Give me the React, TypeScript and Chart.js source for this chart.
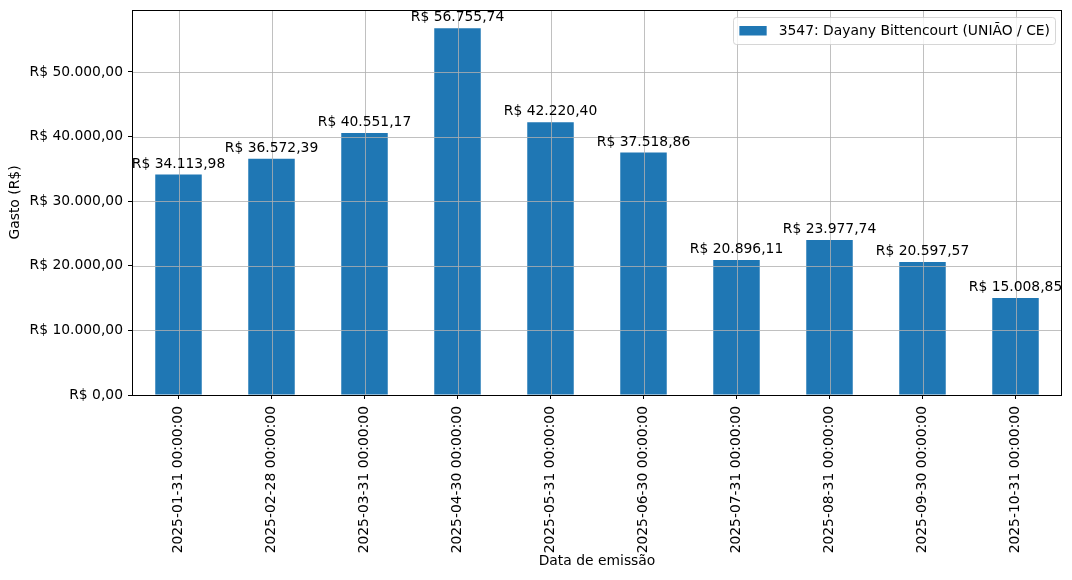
import React, { useEffect, useRef } from "react";
import { Chart, registerables } from "chart.js";

Chart.register(...registerables);

const categories = [
  "2025-01-31 00:00:00",
  "2025-02-28 00:00:00",
  "2025-03-31 00:00:00",
  "2025-04-30 00:00:00",
  "2025-05-31 00:00:00",
  "2025-06-30 00:00:00",
  "2025-07-31 00:00:00",
  "2025-08-31 00:00:00",
  "2025-09-30 00:00:00",
  "2025-10-31 00:00:00",
];
const seriesLabel = "3547: Dayany Bittencourt (UNIÃO / CE)";
const values = [
  34113.98, 36572.39, 40551.17, 56755.74, 42220.4, 37518.86, 20896.11, 23977.74,
  20597.57, 15008.85,
];
const yTickValues = [0, 10000, 20000, 30000, 40000, 50000];
const yMax = 59593.5;
const xTitle = "Data de emissão";
const yTitle = "Gasto (R$)";

const FONT_FAMILY = "'DejaVu Sans', sans-serif";
const FONT_SIZE = 13.89;
const BAR_COLOR = "#1f77b4";
const GRID_COLOR = "#b0b0b0";

function brl(v: number): string {
  const [i, d] = v.toFixed(2).split(".");
  return "R$ " + i.replace(/\B(?=(\d{3})+(?!\d))/g, ".") + "," + d;
}

const overlayPlugin = {
  id: "overlay",
  afterDatasetsDraw(chart: any) {
    const { ctx, chartArea } = chart;
    const xs = chart.scales.x;
    const ys = chart.scales.y;
    ctx.save();
    // grid on top of bars
    ctx.strokeStyle = GRID_COLOR;
    ctx.lineWidth = 0.8;
    for (let i = 0; i < xs.ticks.length; i++) {
      const px = Math.round(xs.getPixelForTick(i)) + 0.5;
      ctx.beginPath();
      ctx.moveTo(px, chartArea.top);
      ctx.lineTo(px, chartArea.bottom);
      ctx.stroke();
    }
    for (let i = 0; i < ys.ticks.length; i++) {
      const py = Math.round(ys.getPixelForTick(i)) + 0.5;
      ctx.beginPath();
      ctx.moveTo(chartArea.left, py);
      ctx.lineTo(chartArea.right, py);
      ctx.stroke();
    }
    // frame
    ctx.strokeStyle = "#000";
    ctx.lineWidth = 1;
    ctx.strokeRect(
      Math.round(chartArea.left) + 0.5,
      Math.round(chartArea.top) + 0.5,
      Math.round(chartArea.right - chartArea.left) - 1,
      Math.round(chartArea.bottom - chartArea.top)
    );
    // value labels
    ctx.fillStyle = "#000";
    ctx.font = `${FONT_SIZE}px ${FONT_FAMILY}`;
    ctx.textAlign = "center";
    ctx.textBaseline = "alphabetic";
    const meta = chart.getDatasetMeta(0);
    meta.data.forEach((bar: any, i: number) => {
      ctx.fillText(brl(values[i]), bar.x, bar.y - 7);
    });
    // legend
    const tw = ctx.measureText(seriesLabel).width;
    const boxRight = chartArea.right - 7;
    const boxTop = chartArea.top + 7;
    const boxW = 6 + 27.3 + 12 + tw + 5;
    const boxH = 27;
    const boxLeft = boxRight - boxW;
    ctx.fillStyle = "rgba(255,255,255,0.8)";
    ctx.strokeStyle = "rgba(204,204,204,0.8)";
    ctx.lineWidth = 1;
    ctx.beginPath();
    (ctx as any).roundRect(Math.round(boxLeft) + 0.5, Math.round(boxTop) + 0.5, Math.round(boxW), boxH, 3);
    ctx.fill();
    ctx.stroke();
    ctx.fillStyle = BAR_COLOR;
    ctx.fillRect(boxLeft + 6, boxTop + 9, 27.3, 9.5);
    ctx.fillStyle = "#000";
    ctx.textAlign = "left";
    ctx.textBaseline = "middle";
    ctx.fillText(seriesLabel, boxLeft + 6 + 27.3 + 12, boxTop + 14);
    ctx.restore();
  },
};

export default function App() {
  const ref = useRef<HTMLCanvasElement | null>(null);
  useEffect(() => {
    document.body.style.margin = "0";
    const canvas = ref.current;
    if (!canvas) return;
    const chart = new Chart(canvas, {
      type: "bar",
      data: {
        labels: categories,
        datasets: [
          {
            label: seriesLabel,
            data: values,
            backgroundColor: BAR_COLOR,
            borderWidth: 0,
            barPercentage: 0.5,
            categoryPercentage: 1.0,
          },
        ],
      },
      options: {
        animation: false,
        responsive: false,
        maintainAspectRatio: false,
        layout: { padding: { left: 0, top: 10, right: 10, bottom: 0 } },
        plugins: {
          legend: { display: false },
          tooltip: { enabled: false },
        },
        scales: {
          x: {
            offset: true,
            grid: {
              display: true,
              offset: false,
              drawOnChartArea: false,
              drawTicks: true,
              tickLength: 4,
              tickColor: "#000",
            },
            border: { display: false },
            ticks: {
              autoSkip: false,
              minRotation: 90,
              maxRotation: 90,
              padding: 7,
              color: "#000",
              font: { family: FONT_FAMILY, size: FONT_SIZE },
            },
            title: {
              display: true,
              text: xTitle,
              color: "#000",
              font: { family: FONT_FAMILY, size: FONT_SIZE },
              padding: { top: 0, bottom: 10 },
            },
            afterFit(scale: any) {
              scale.height = 185;
              scale.paddingLeft = 0;
              scale.paddingRight = 0;
            },
          },
          y: {
            min: 0,
            max: yMax,
            grid: {
              display: true,
              drawOnChartArea: false,
              drawTicks: true,
              tickLength: 4,
              tickColor: "#000",
            },
            border: { display: false },
            ticks: {
              stepSize: 10000,
              includeBounds: false,
              padding: 5,
              color: "#000",
              font: { family: FONT_FAMILY, size: FONT_SIZE },
              callback: (v: any) => brl(Number(v)),
            },
            afterBuildTicks(scale: any) {
              scale.ticks = yTickValues.map((v) => ({ value: v }));
            },
            title: {
              display: true,
              text: yTitle,
              color: "#000",
              font: { family: FONT_FAMILY, size: FONT_SIZE },
              padding: { top: 7.5, bottom: 0 },
            },
            afterFit(scale: any) {
              scale.width = 132;
              scale.paddingTop = 0;
              scale.paddingBottom = 0;
            },
          },
        },
      },
      plugins: [overlayPlugin],
    });
    return () => chart.destroy();
  }, []);
  return (
    <div style={{ position: "absolute", left: 0, top: 0, width: 1072, height: 580 }}>
      <canvas ref={ref} width={1072} height={580} style={{ width: 1072, height: 580 }} />
    </div>
  );
}
